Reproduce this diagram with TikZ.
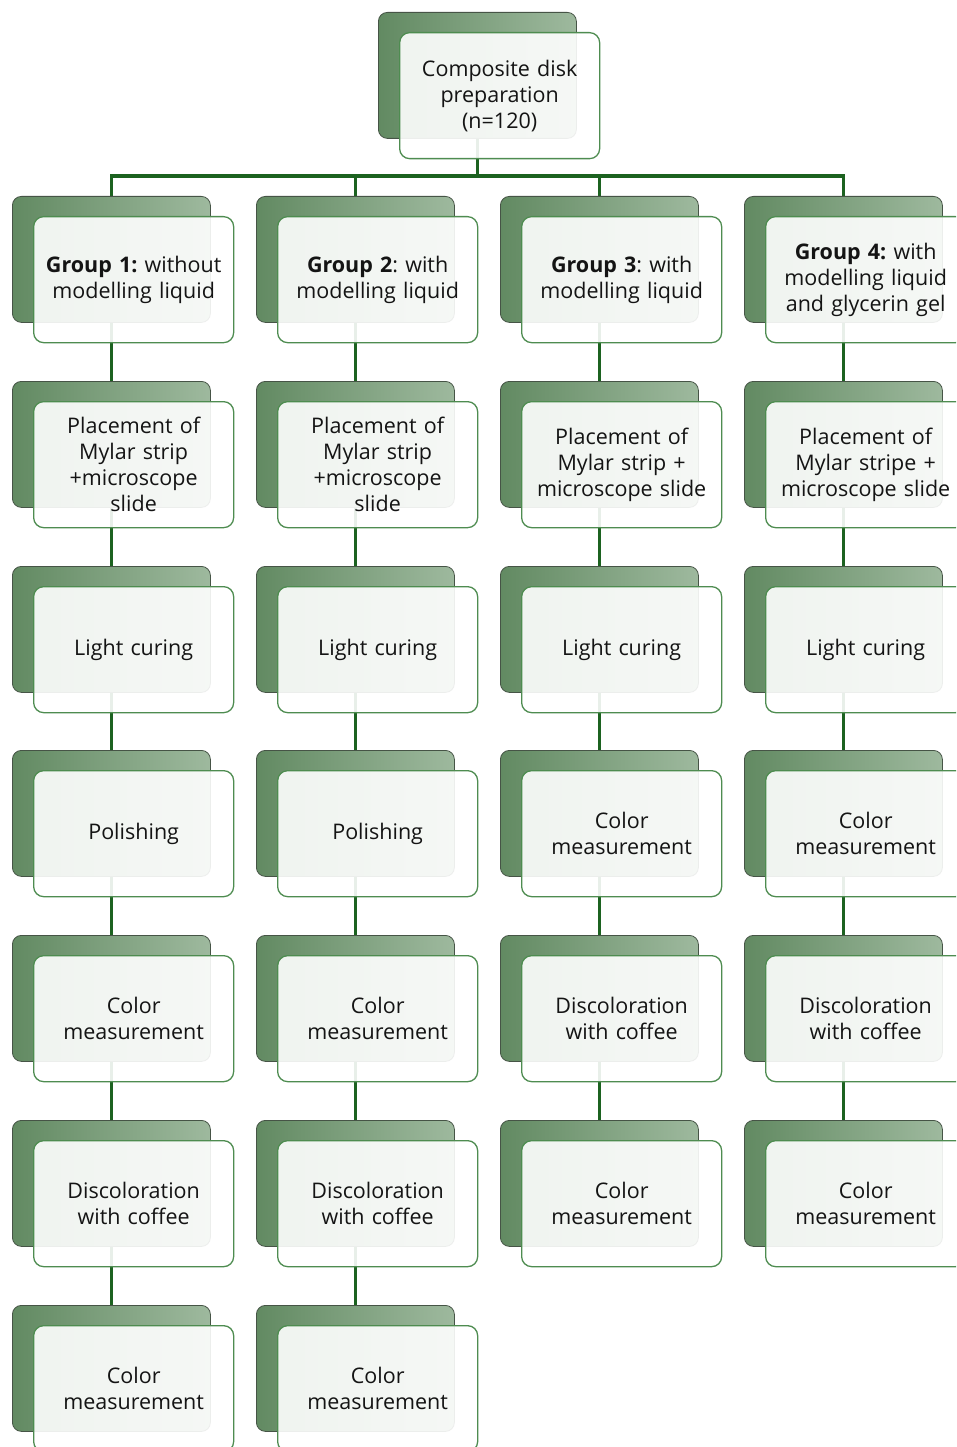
\documentclass[tikz,border=0pt]{standalone}
\usepackage{fontspec}
\setmainfont{Open Sans}
\frenchspacing
\usetikzlibrary{backgrounds}
\definecolor{linegreen}{RGB}{28,98,32}
\definecolor{backdark}{RGB}{98,138,98}
\definecolor{backlight}{RGB}{158,185,158}
\definecolor{backborder}{RGB}{70,84,70}
\definecolor{frontborder}{RGB}{78,140,80}
\definecolor{txt}{RGB}{20,20,20}
\tikzset{
  backbox/.style={anchor=north west, minimum width=198pt, minimum height=126pt,
    rounded corners=9pt, draw=backborder, line width=0.8pt,
    left color=backdark, right color=backlight, inner sep=0pt},
  frontbox/.style={anchor=north west, minimum width=200pt, minimum height=126pt,
    text width=190pt, align=center, rounded corners=10pt, draw=frontborder,
    line width=1.3pt, fill=white, fill opacity=0.9, text opacity=1,
    text=txt, font=\fontsize{21.5pt}{26pt}\selectfont, inner sep=0pt},
  conn/.style={draw=linegreen, line width=3.5pt}
}
\newcommand{\stepitem}[4]{%
  \node[backbox] (#1) at (#2,#3) {};
  \node[frontbox] (#1f) at (#2+21,#3+20) {#4};
}
\begin{document}
\begin{tikzpicture}[x=1pt,y=-1pt]
\useasboundingbox (0,0) rectangle (956,1447);
\clip (0,0) rectangle (956,1447);
% top node
\stepitem{top}{378}{12}{Composite disk\\preparation\\(n=120)}
% groups
\stepitem{a0}{12}{196}{\textbf{Group 1:} without\\modelling liquid}
\stepitem{b0}{256}{196}{\textbf{Group 2}: with\\modelling liquid}
\stepitem{c0}{500}{196}{\textbf{Group 3}: with\\modelling liquid}
\stepitem{d0}{744}{196}{\textbf{Group 4:} with\\modelling liquid\\and glycerin gel}
% column 1
\stepitem{a1}{12}{381}{Placement of\\Mylar strip\\+microscope\\slide}
\stepitem{a2}{12}{566}{Light curing}
\stepitem{a3}{12}{750}{Polishing}
\stepitem{a4}{12}{935}{Color\\measurement}
\stepitem{a5}{12}{1120}{Discoloration\\with coffee}
\stepitem{a6}{12}{1305}{Color\\measurement}
% column 2
\stepitem{b1}{256}{381}{Placement of\\Mylar strip\\+microscope\\slide}
\stepitem{b2}{256}{566}{Light curing}
\stepitem{b3}{256}{750}{Polishing}
\stepitem{b4}{256}{935}{Color\\measurement}
\stepitem{b5}{256}{1120}{Discoloration\\with coffee}
\stepitem{b6}{256}{1305}{Color\\measurement}
% column 3
\stepitem{c1}{500}{381}{Placement of\\Mylar strip +\\microscope slide}
\stepitem{c2}{500}{566}{Light curing}
\stepitem{c3}{500}{750}{Color\\measurement}
\stepitem{c4}{500}{935}{Discoloration\\with coffee}
\stepitem{c5}{500}{1120}{Color\\measurement}
% column 4
\stepitem{d1}{744}{381}{Placement of\\Mylar stripe +\\microscope slide}
\stepitem{d2}{744}{566}{Light curing}
\stepitem{d3}{744}{750}{Color\\measurement}
\stepitem{d4}{744}{935}{Discoloration\\with coffee}
\stepitem{d5}{744}{1120}{Color\\measurement}
% connectors
\begin{scope}[on background layer]
\fill[white] (0,0) rectangle (956,1447);
\coordinate (bus) at (top.south |- 0,176);
\draw[conn] (top.south) -- (bus);
\draw[conn] (a0.north) |- (bus);
\draw[conn] (b0.north) |- (bus);
\draw[conn] (c0.north) |- (bus);
\draw[conn] (d0.north) |- (bus);
\foreach \c/\n in {a/6,b/6,c/5,d/5}{
  \foreach \i [evaluate=\i as \j using int(\i+1)] in {0,...,\n}{
    \ifnum\i<\n
      \draw[conn] (\c\i.south) -- (\c\j.north);
    \fi
  }
}
\end{scope}
\end{tikzpicture}
\end{document}
